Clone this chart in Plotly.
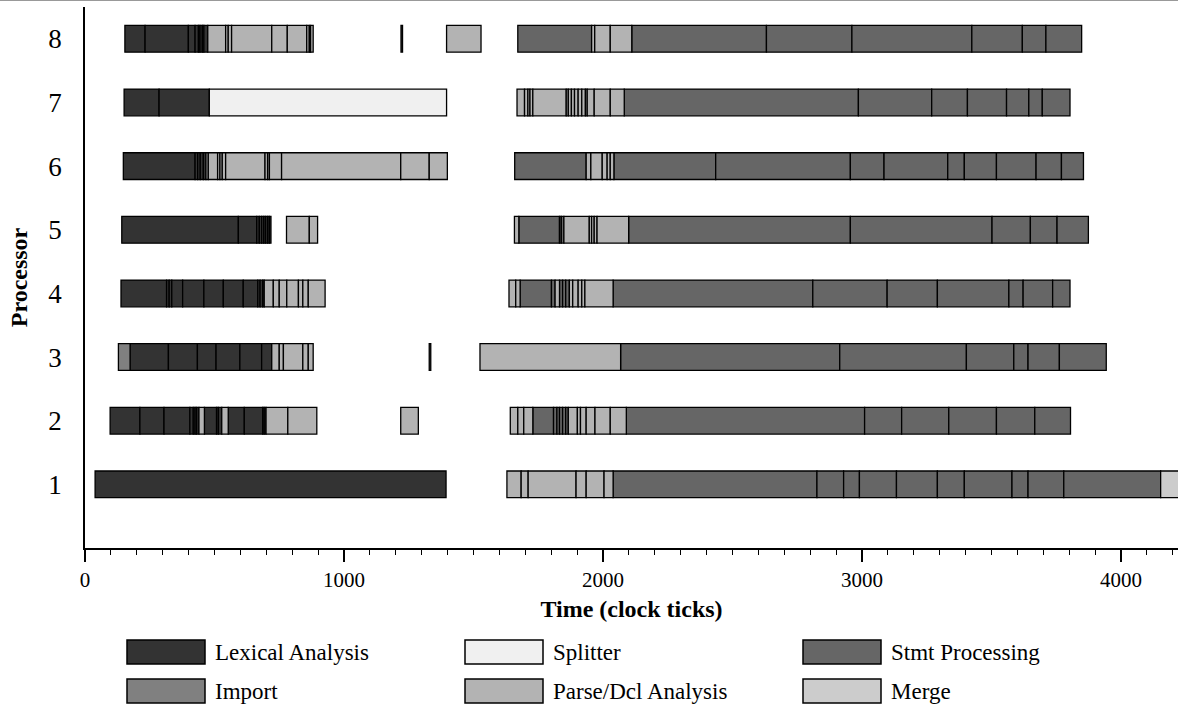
import plotly.graph_objects as go

# ---- data (start tick, end tick, phase code) per processor ----
categories = ["Lexical Analysis", "Splitter", "Stmt Processing", "Import", "Parse/Dcl Analysis", "Merge"]
codes = ["L", "S", "T", "I", "P", "M"]
colors = ["#333333", "#f0f0f0", "#666666", "#808080", "#b3b3b3", "#cccccc"]

proc8 = [(154, 232, "L"), (232, 399, "L"), (399, 425, "L"), (425, 438, "L"), (438, 444, "L"), (444, 453, "L"),
         (453, 459, "L"), (459, 474, "L"), (474, 543, "P"), (543, 553, "P"), (553, 566, "P"), (566, 721, "P"),
         (721, 781, "P"), (781, 856, "P"), (856, 866, "P"), (866, 871, "P"), (871, 881, "P"),
         (1220, 1226, "L"), (1396, 1529, "P"),
         (1671, 1956, "T"), (1956, 1968, "P"), (1968, 2028, "P"), (2028, 2111, "P"), (2111, 2631, "T"),
         (2631, 2961, "T"), (2961, 3424, "T"), (3424, 3619, "T"), (3619, 3710, "T"), (3710, 3848, "T")]

proc7 = [(151, 286, "L"), (286, 480, "L"), (480, 1396, "S"),
         (1668, 1697, "P"), (1697, 1710, "P"), (1710, 1718, "P"), (1718, 1729, "P"), (1729, 1858, "P"),
         (1858, 1866, "P"), (1866, 1878, "P"), (1878, 1890, "P"), (1890, 1904, "P"), (1904, 1918, "P"),
         (1918, 1932, "P"), (1932, 1939, "P"), (1939, 1966, "P"), (1966, 2028, "P"), (2028, 2082, "P"),
         (2082, 2986, "T"), (2986, 3269, "T"), (3269, 3407, "T"), (3407, 3558, "T"), (3558, 3644, "T"),
         (3644, 3696, "T"), (3696, 3803, "T")]

proc6 = [(148, 425, "L"), (425, 435, "L"), (435, 445, "L"), (445, 457, "L"), (457, 467, "L"),
         (467, 476, "P"), (476, 512, "P"), (512, 521, "P"), (521, 530, "P"), (530, 543, "P"), (543, 695, "P"),
         (695, 705, "P"), (705, 712, "P"), (712, 759, "P"), (759, 1219, "P"), (1219, 1329, "P"), (1329, 1399, "P"),
         (1659, 1935, "T"), (1935, 1953, "P"), (1953, 1997, "P"), (1997, 2016, "P"), (2016, 2028, "P"),
         (2028, 2042, "P"), (2042, 2435, "T"), (2435, 2955, "T"), (2955, 3085, "T"), (3085, 3331, "T"),
         (3331, 3395, "T"), (3395, 3519, "T"), (3519, 3672, "T"), (3672, 3770, "T"), (3770, 3855, "T")]

proc5 = [(142, 592, "L"), (592, 663, "L"), (663, 673, "L"), (673, 682, "L"), (682, 690, "L"), (690, 697, "L"),
         (697, 705, "L"), (705, 712, "L"), (712, 718, "L"),
         (778, 866, "P"), (866, 898, "P"),
         (1658, 1675, "P"), (1675, 1832, "T"), (1832, 1839, "T"), (1839, 1849, "T"), (1849, 1947, "P"),
         (1947, 1956, "P"), (1956, 1966, "P"), (1966, 1977, "P"), (1977, 2099, "P"), (2099, 2955, "T"),
         (2955, 3502, "T"), (3502, 3650, "T"), (3650, 3753, "T"), (3753, 3874, "T")]

proc4 = [(139, 315, "L"), (315, 325, "L"), (325, 335, "L"), (335, 377, "L"), (377, 459, "L"), (459, 534, "L"),
         (534, 611, "L"), (611, 667, "L"), (667, 676, "L"), (676, 686, "L"), (686, 692, "L"),
         (692, 727, "P"), (727, 750, "P"), (750, 779, "P"), (779, 824, "P"), (824, 841, "P"), (841, 862, "P"),
         (862, 927, "P"),
         (1637, 1663, "P"), (1663, 1680, "P"), (1680, 1801, "T"), (1801, 1815, "T"), (1815, 1832, "P"),
         (1832, 1844, "T"), (1844, 1856, "T"), (1856, 1870, "T"), (1870, 1883, "P"), (1883, 1904, "P"),
         (1904, 1918, "P"), (1918, 1930, "P"), (1930, 2039, "P"), (2039, 2810, "T"), (2810, 3097, "T"),
         (3097, 3291, "T"), (3291, 3567, "T"), (3567, 3622, "T"), (3622, 3736, "T"), (3736, 3803, "T")]

proc3 = [(129, 174, "I"), (174, 322, "L"), (322, 434, "L"), (434, 506, "L"), (506, 598, "L"), (598, 682, "L"),
         (682, 721, "L"), (721, 750, "P"), (750, 766, "P"), (766, 841, "P"), (841, 862, "P"), (862, 881, "P"),
         (1329, 1335, "L"),
         (1525, 2068, "P"), (2068, 2914, "T"), (2914, 3403, "T"), (3403, 3586, "T"), (3586, 3641, "T"),
         (3641, 3762, "T"), (3762, 3943, "T")]

proc2 = [(97, 212, "L"), (212, 305, "L"), (305, 405, "L"), (405, 418, "L"), (418, 425, "L"), (425, 431, "L"),
         (431, 440, "L"), (440, 461, "P"), (461, 508, "L"), (508, 515, "L"), (515, 528, "L"), (528, 553, "P"),
         (553, 615, "L"), (615, 686, "L"), (686, 692, "L"), (692, 699, "L"), (699, 783, "P"), (783, 895, "P"),
         (1219, 1287, "P"),
         (1642, 1671, "P"), (1671, 1694, "P"), (1694, 1729, "P"), (1729, 1809, "T"), (1809, 1822, "T"),
         (1822, 1832, "T"), (1832, 1844, "T"), (1844, 1856, "T"), (1856, 1866, "T"), (1866, 1901, "P"),
         (1901, 1913, "P"), (1913, 1935, "P"), (1935, 1969, "P"), (1969, 2028, "P"), (2028, 2090, "P"),
         (2090, 3010, "T"), (3010, 3153, "T"), (3153, 3335, "T"), (3335, 3519, "T"), (3519, 3667, "T"),
         (3667, 3805, "T")]

proc1 = [(39, 1394, "L"),
         (1629, 1684, "P"), (1684, 1711, "P"), (1711, 1896, "P"), (1896, 1935, "P"), (1935, 2004, "P"),
         (2004, 2039, "P"), (2039, 2826, "T"), (2826, 2929, "T"), (2929, 2990, "T"), (2990, 3133, "T"),
         (3133, 3291, "T"), (3291, 3395, "T"), (3395, 3579, "T"), (3579, 3641, "T"), (3641, 3779, "T"),
         (3779, 4153, "T"), (4153, 4230, "M")]

processors = [1, 2, 3, 4, 5, 6, 7, 8]
proc_segments = [proc1, proc2, proc3, proc4, proc5, proc6, proc7, proc8]
x_ticks = [0, 1000, 2000, 3000, 4000]

FONT = "Liberation Serif, Times New Roman, serif"

fig = go.Figure()
for name, code, col in zip(categories, codes, colors):
    ys, bases, lens = [], [], []
    for p, segs in zip(processors, proc_segments):
        for s, e, c in segs:
            if c == code:
                ys.append(p)
                bases.append(s)
                lens.append(e - s)
    fig.add_trace(go.Bar(
        y=ys, x=lens, base=bases, orientation="h", name=name,
        width=0.42, marker=dict(color=col, line=dict(color="#000000", width=1.3)),
        showlegend=False, hoverinfo="skip"))

# plot area in pixels
L, R, T, B = 85, 1178, 7, 548
W, H = R - L, B - T
def px(x):
    return (x - L) / W
def py(y):
    return (B - y) / H

shapes = []
annotations = []
leg_cols = [127, 465, 803]
leg_rows = [640, 679]
for i, (name, col) in enumerate(zip(categories, colors)):
    cx = leg_cols[i % 3]
    ry = leg_rows[i // 3]
    shapes.append(dict(type="rect", xref="paper", yref="paper",
                       x0=px(cx), x1=px(cx + 78), y0=py(ry), y1=py(ry + 24),
                       fillcolor=col, line=dict(color="#000000", width=1.5)))
    annotations.append(dict(xref="paper", yref="paper", x=px(cx + 86), y=py(ry + 12),
                            xanchor="left", yanchor="middle", showarrow=False, text=name,
                            font=dict(family=FONT, size=23, color="#000000")))

# thin grey frame line at very top
shapes.append(dict(type="line", xref="paper", yref="paper", x0=px(0), x1=px(1178),
                   y0=py(0.5), y1=py(0.5), line=dict(color="#999999", width=1)))

fig.update_layout(
    width=1178, height=713,
    margin=dict(l=L, r=1178 - R, t=T, b=713 - B),
    paper_bgcolor="white", plot_bgcolor="white",
    barmode="overlay",
    font=dict(family=FONT, color="#000000"),
    shapes=shapes, annotations=annotations,
    xaxis=dict(range=[0, 4220], tickvals=x_ticks, ticktext=[str(v) for v in x_ticks],
               ticks="outside", ticklen=12, tickwidth=1.5, tickcolor="#000000",
               minor=dict(dtick=100, ticks="outside", ticklen=5, tickwidth=1.2, tickcolor="#000000"),
               showline=True, linecolor="#000000", linewidth=1.5, showgrid=False, zeroline=False,
               tickfont=dict(family=FONT, size=21),
               title=dict(text="<b>Time (clock ticks)</b>", font=dict(family=FONT, size=24), standoff=9)),
    yaxis=dict(range=[0, 8.5], tickvals=processors, ticktext=[str(p) for p in processors],
               ticks="", showline=True, linecolor="#000000", linewidth=1.5, showgrid=False, zeroline=False,
               tickfont=dict(family=FONT, size=27), ticklabelstandoff=16,
               title=dict(text="<b>Processor</b>", font=dict(family=FONT, size=24), standoff=14)),
)

fig.write_html("out.html")
